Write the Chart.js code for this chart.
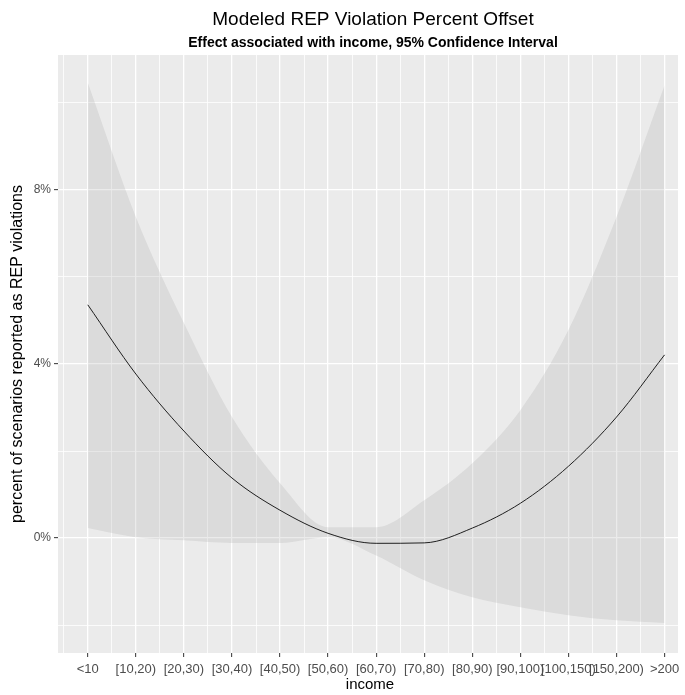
<!DOCTYPE html>
<html>
<head>
<meta charset="utf-8">
<script src="https://cdn.jsdelivr.net/npm/chart.js@4"></script>
<style>
  html, body { margin: 0; padding: 0; background: #fff; }
  #wrap { width: 685px; height: 695px; }
</style>
</head>
<body>
<div id="wrap"><canvas id="incomeChart" width="685" height="695"></canvas></div>
<script>
// income brackets on the x axis
var categories = ['<10', '[10,20)', '[20,30)', '[30,40)', '[40,50)', '[50,60)', '[60,70)',
    '[70,80)', '[80,90)', '[90,100)', '[100,150)', '[150,200)', '>200'];
// modeled offset (%) and its 95% interval
var estimate = [5.36, 3.77, 2.46, 1.38, 0.64, 0.11, -0.12, -0.11, 0.23, 0.80, 1.65, 2.78, 4.21];
var upper = [10.46, 7.38, 4.94, 2.78, 1.26, 0.25, 0.25, 0.87, 1.72, 2.94, 4.78, 7.38, 10.40];
var lower = [0.23, 0.02, -0.05, -0.11, -0.11, 0.02, -0.40, -0.97, -1.36, -1.59, -1.77, -1.89, -1.95];
var yTicks = [-2, 0, 2, 4, 6, 8, 10];
var yLabelled = [0, 4, 8];

function points(arr) {
    return arr.map(function (v, i) { return { x: i, y: v }; });
}

var font = "'Liberation Sans', Arial, sans-serif";

// grey panel behind the plot + titles
var panel = {
    id: 'panel',
    beforeDraw: function (chart) {
        var c = chart.ctx, a = chart.chartArea;
        c.save();
        c.fillStyle = '#ebebeb';
        c.fillRect(a.left, a.top, a.right - a.left, a.bottom - a.top);
        c.restore();
    },
    afterDraw: function (chart) {
        var c = chart.ctx, a = chart.chartArea;
        var cx = (a.left + a.right) / 2 + 5;
        c.save();
        c.fillStyle = '#000';
        c.textAlign = 'center';
        c.textBaseline = 'middle';
        c.font = '19px ' + font;
        c.fillText('Modeled REP Violation Percent Offset', cx, 20);
        c.font = 'bold 14px ' + font;
        c.fillText('Effect associated with income, 95% Confidence Interval', cx, 43);
        c.font = '15px ' + font;
        c.fillText('income', cx - 3, 685);
        c.font = '16px ' + font;
        c.translate(18, (a.top + a.bottom) / 2);
        c.rotate(-Math.PI / 2);
        c.fillText('percent of scenarios reported as REP violations', 0, 0);
        c.restore();
    }
};

var ctx = document.getElementById('incomeChart').getContext('2d');
var incomeChart = new Chart(ctx, {
    type: 'line',
    data: {
        datasets: [{
            label: 'upper',
            data: points(upper),
            borderWidth: 0,
            pointRadius: 0,
            backgroundColor: 'rgba(153,153,153,0.2)',
            fill: '+1',
            cubicInterpolationMode: 'monotone'
        }, {
            label: 'lower',
            data: points(lower),
            borderWidth: 0,
            pointRadius: 0,
            fill: false,
            cubicInterpolationMode: 'monotone'
        }, {
            label: 'estimate',
            data: points(estimate),
            borderColor: '#000',
            borderWidth: 1,
            pointRadius: 0,
            fill: false,
            cubicInterpolationMode: 'monotone'
        }]
    },
    options: {
        responsive: false,
        animation: false,
        layout: { padding: { top: 55, right: 7, left: 0, bottom: 0 } },
        plugins: {
            legend: { display: false },
            tooltip: { enabled: false }
        },
        scales: {
            x: {
                type: 'linear',
                min: -0.62,
                max: 12.28,
                afterBuildTicks: function (scale) {
                    var t = [];
                    for (var v = -0.5; v <= 12; v += 0.5) t.push({ value: v });
                    scale.ticks = t;
                },
                afterFit: function (scale) { scale.height = 42; },
                border: { display: false },
                grid: {
                    color: '#ffffff',
                    lineWidth: function (c) { return Number.isInteger(c.tick.value) ? 1.3 : 0.8; },
                    tickColor: function (c) { return Number.isInteger(c.tick.value) ? '#333333' : 'rgba(0,0,0,0)'; },
                    tickLength: 4,
                    tickWidth: 1
                },
                ticks: {
                    autoSkip: false,
                    maxRotation: 0,
                    padding: 5,
                    color: '#4d4d4d',
                    font: { family: font, size: 13 },
                    callback: function (v) { return Number.isInteger(v) ? categories[v] : ''; }
                }
            },
            y: {
                min: -2.64,
                max: 11.1,
                afterBuildTicks: function (scale) {
                    scale.ticks = yTicks.map(function (v) { return { value: v }; });
                },
                afterFit: function (scale) { scale.width = 58; },
                border: { display: false },
                grid: {
                    color: '#ffffff',
                    lineWidth: function (c) { return yLabelled.indexOf(c.tick.value) >= 0 ? 1.3 : 0.8; },
                    tickColor: function (c) { return yLabelled.indexOf(c.tick.value) >= 0 ? '#333333' : 'rgba(0,0,0,0)'; },
                    tickLength: 4,
                    tickWidth: 1
                },
                ticks: {
                    padding: 3,
                    color: '#4d4d4d',
                    font: { family: font, size: 12 },
                    callback: function (v) { return yLabelled.indexOf(v) >= 0 ? v + '%' : ''; }
                }
            }
        }
    },
    plugins: [panel]
});
</script>
</body>
</html>
